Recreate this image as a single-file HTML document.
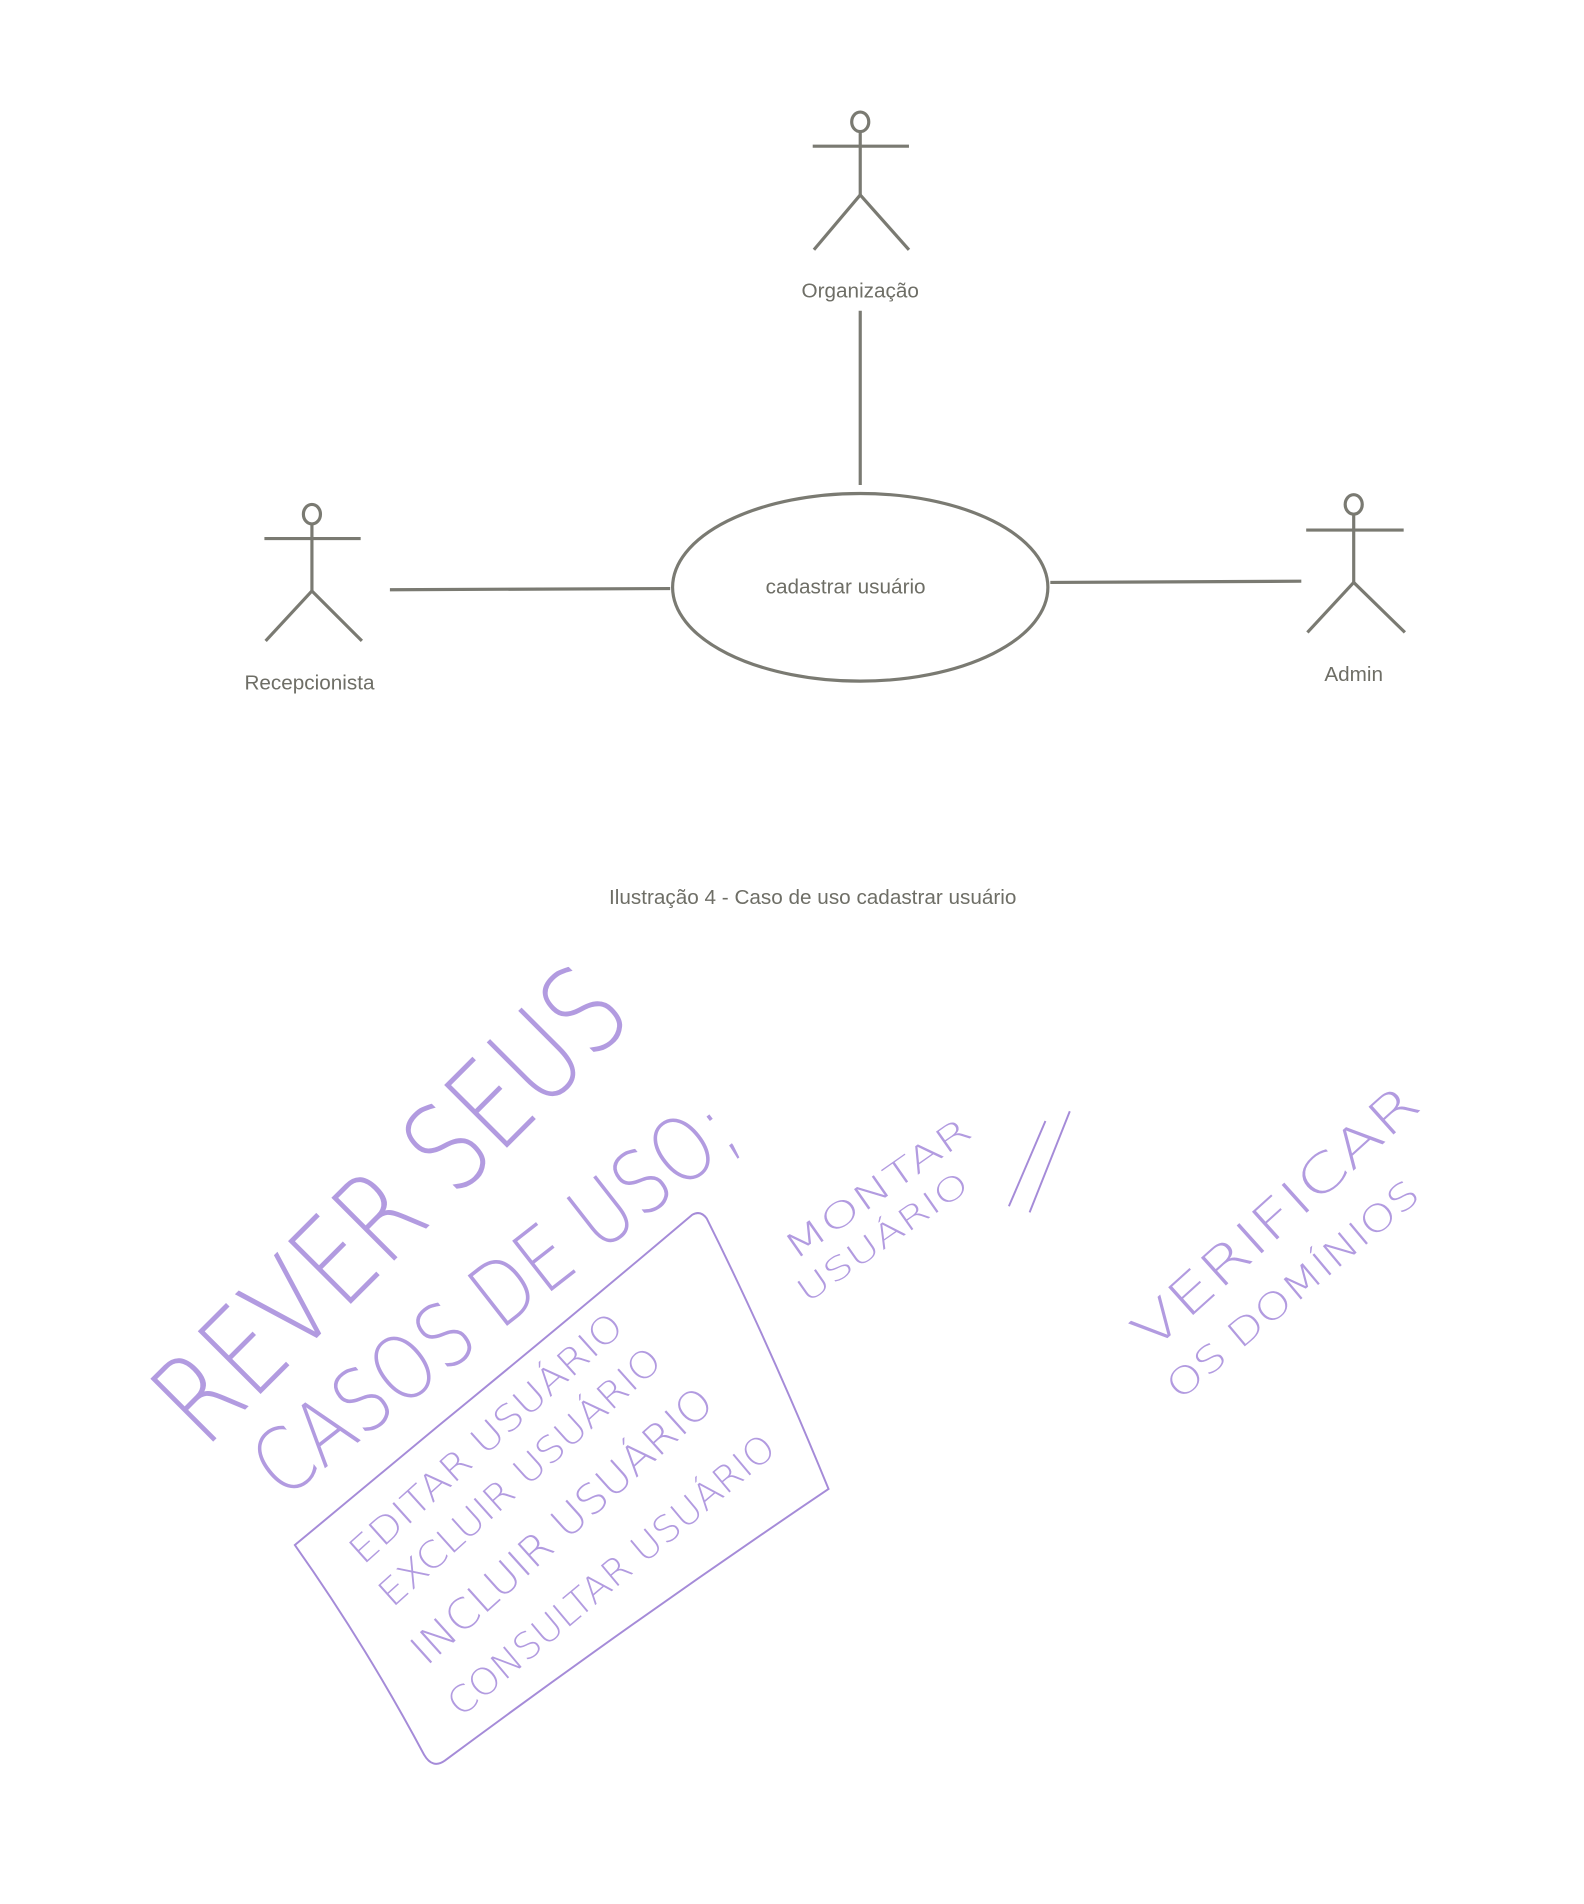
<!DOCTYPE html>
<html><head><meta charset="utf-8"><style>
html,body{margin:0;padding:0;background:#fff;}
svg{display:block;}
</style></head><body>
<svg width="1584" height="1904" viewBox="0 0 1300 1562.6" preserveAspectRatio="none" xmlns="http://www.w3.org/2000/svg">
<rect width="1300" height="1563" fill="#fff"/>
<g stroke="#7a7a72" stroke-width="2.6" fill="none">
  <ellipse cx="706" cy="100" rx="7" ry="8"/>
  <line x1="667" y1="120" x2="746" y2="120"/>
  <line x1="706" y1="108" x2="706" y2="160"/>
  <line x1="706" y1="160" x2="668" y2="205"/>
  <line x1="706" y1="160" x2="746" y2="205"/>
  <line x1="706" y1="255" x2="706" y2="398"/>
  <ellipse cx="706" cy="482" rx="154" ry="77"/>
  <ellipse cx="256" cy="422" rx="7" ry="8"/>
  <line x1="217" y1="442" x2="296" y2="442"/>
  <line x1="256" y1="430" x2="256" y2="485"/>
  <line x1="256" y1="485" x2="218" y2="526"/>
  <line x1="256" y1="485" x2="297" y2="526"/>
  <line x1="320" y1="484" x2="550" y2="483"/>
  <ellipse cx="1111" cy="414" rx="7" ry="8"/>
  <line x1="1072" y1="435" x2="1152" y2="435"/>
  <line x1="1111" y1="422" x2="1111" y2="478"/>
  <line x1="1111" y1="478" x2="1073" y2="519"/>
  <line x1="1111" y1="478" x2="1153" y2="519"/>
  <line x1="862" y1="478" x2="1068" y2="477"/>
</g>
<g font-family="Liberation Sans, DejaVu Sans, sans-serif" font-size="17" fill="#6e6e66" text-anchor="middle">
  <text x="706" y="244">Organização</text>
  <text x="694" y="487">cadastrar usuário</text>
  <text x="254" y="566">Recepcionista</text>
  <text x="1111" y="559">Admin</text>
  <text x="667" y="742">Ilustração 4 - Caso de uso cadastrar usuário</text>
</g>
<g fill="none" stroke="#a58bd8" stroke-width="1.6">
  <path d="M242 1268 Q300 1220 360 1170 Q470 1080 568 997 Q575 993 580 1000 Q630 1100 680 1222 Q520 1330 365 1445 Q355 1452 348 1440 Q300 1350 242 1268 Z"/>
  <line x1="828" y1="990" x2="858" y2="920"/>
  <line x1="845" y1="995" x2="878" y2="912"/>
</g>
<g font-family="DejaVu Sans, Liberation Sans, sans-serif" fill="#b29be0" font-weight="200">
  <text transform="translate(168,1190) rotate(-45)" font-size="100" textLength="500" lengthAdjust="spacingAndGlyphs">REVER SEUS</text>
  <text transform="translate(232,1232) rotate(-38)" font-size="72" textLength="480" lengthAdjust="spacingAndGlyphs">CASOS DE USO;</text>
  <text transform="translate(298,1285) rotate(-42)" font-size="30" textLength="290" lengthAdjust="spacingAndGlyphs">EDITAR USUÁRIO</text>
  <text transform="translate(322,1320) rotate(-42)" font-size="30" textLength="300" lengthAdjust="spacingAndGlyphs">EXCLUIR USUÁRIO</text>
  <text transform="translate(350,1368) rotate(-42)" font-size="34" textLength="320" lengthAdjust="spacingAndGlyphs">INCLUIR USUÁRIO</text>
  <text transform="translate(378,1410) rotate(-40)" font-size="30" textLength="340" lengthAdjust="spacingAndGlyphs">CONSULTAR USUÁRIO</text>
  <text transform="translate(652,1035) rotate(-35)" font-size="28" textLength="180" lengthAdjust="spacingAndGlyphs">MONTAR</text>
  <text transform="translate(662,1070) rotate(-35)" font-size="26" textLength="165" lengthAdjust="spacingAndGlyphs">USUÁRIO</text>
  <text transform="translate(945,1110) rotate(-42)" font-size="42" textLength="300" lengthAdjust="spacingAndGlyphs">VERIFICAR</text>
  <text transform="translate(968,1150) rotate(-40)" font-size="30" textLength="260" lengthAdjust="spacingAndGlyphs">OS DOMÍNIOS</text>
</g>
</svg>
</body></html>
